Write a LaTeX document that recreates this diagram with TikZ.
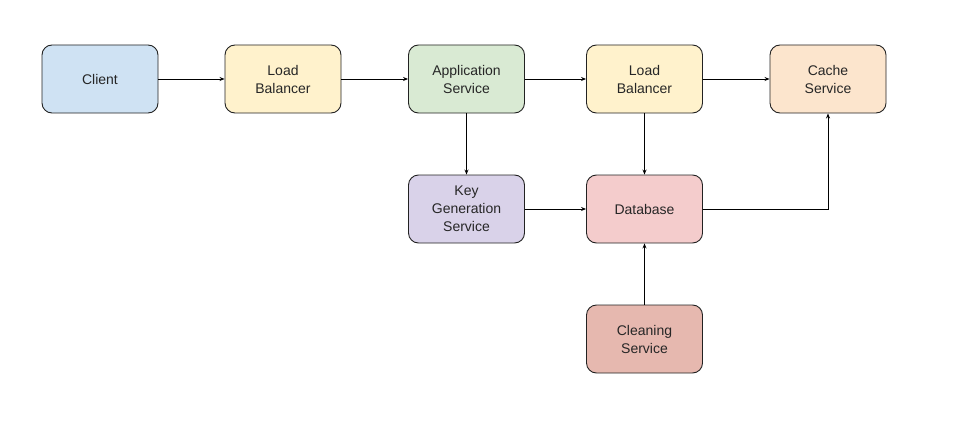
\documentclass[tikz,border=0pt]{standalone}
\usepackage{fontspec}
\setmainfont{Liberation Sans}
\usetikzlibrary{arrows.meta}
\definecolor{cBlue}{HTML}{CFE2F3}
\definecolor{cYellow}{HTML}{FFF2CC}
\definecolor{cGreen}{HTML}{D9EAD3}
\definecolor{cOrange}{HTML}{FCE5CD}
\definecolor{cPurple}{HTML}{D9D2E9}
\definecolor{cPink}{HTML}{F4CCCC}
\definecolor{cRed}{HTML}{E6B8AF}
\definecolor{cLine}{HTML}{222222}
\tikzset{
  box/.style={draw=cLine, line width=0.9pt, rounded corners=10pt, minimum width=116pt, minimum height=68pt,
    align=center, font=\fontsize{14pt}{18pt}\selectfont, text=black!85, inner sep=0pt},
  conn/.style={draw=black, line width=0.9pt, -{Stealth[length=5pt,width=4pt]}}
}
\begin{document}
\begin{tikzpicture}[x=1pt,y=-1pt]
\useasboundingbox (0,0) rectangle (960,420);
\node[box, fill=cBlue] (client) at (100,79) {Client};
\node[box, fill=cYellow] (lb1) at (283,79) {Load\\Balancer};
\node[box, fill=cGreen] (app) at (466.5,79) {Application\\Service};
\node[box, fill=cYellow] (lb2) at (644.5,79) {Load\\Balancer};
\node[box, fill=cOrange] (cache) at (828,79) {Cache\\Service};
\node[box, fill=cPurple] (kgs) at (466.5,209) {Key\\Generation\\Service};
\node[box, fill=cPink] (db) at (644.5,209) {Database};
\node[box, fill=cRed] (clean) at (644.5,339) {Cleaning\\Service};
\draw[conn] (client) -- (lb1);
\draw[conn] (lb1) -- (app);
\draw[conn] (app) -- (lb2);
\draw[conn] (lb2) -- (cache);
\draw[conn] (app) -- (kgs);
\draw[conn] (kgs) -- (db);
\draw[conn] (lb2) -- (db);
\draw[conn] (clean) -- (db);
\draw[conn] (db.east) -| (cache.south);
\end{tikzpicture}
\end{document}
